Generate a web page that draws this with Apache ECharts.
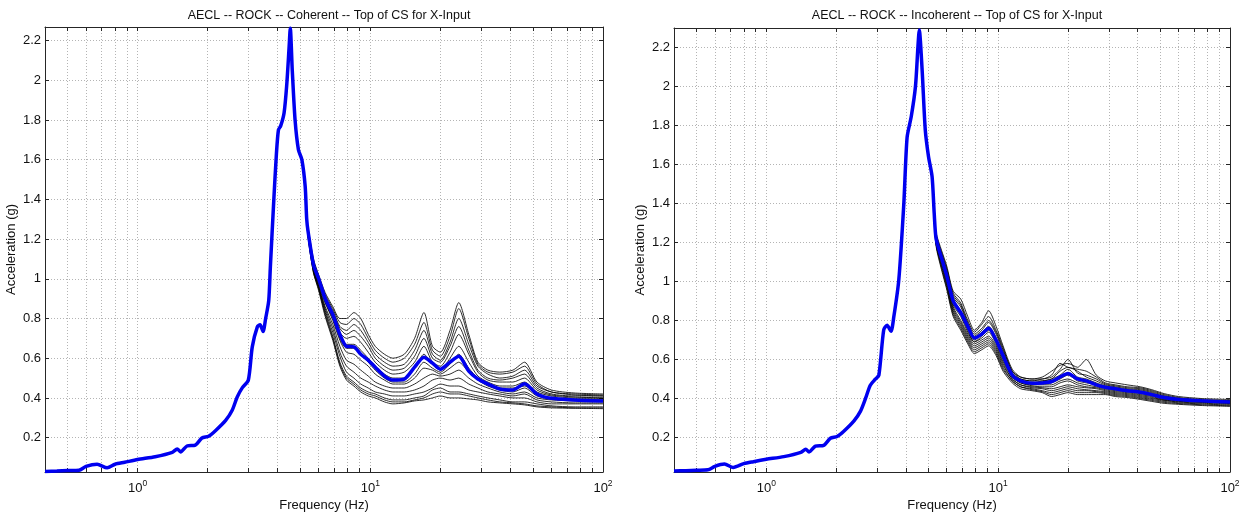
<!DOCTYPE html>
<html>
<head>
<meta charset="utf-8">
<script src="https://cdn.jsdelivr.net/npm/echarts@6/dist/echarts.min.js"></script>
<style>
  html, body { margin: 0; padding: 0; background: #fff; }
  #chart { width: 1247px; height: 514px; }
</style>
</head>
<body>
<div id="chart"></div>
<script>
// ---- text ----
const TITLES = [
  'AECL -- ROCK -- Coherent -- Top of CS for X-Input',
  'AECL -- ROCK -- Incoherent -- Top of CS for X-Input'
];
const X_NAME = 'Frequency (Hz)';
const Y_NAME = 'Acceleration (g)';

// ---- tick positions ----
const X_LABEL_VALUES = [1, 10, 100];
const X_GRID_VALUES = [0.5, 0.6, 0.7, 0.8, 0.9, 1, 2, 3, 4, 5, 6, 7, 8, 9,
  10, 20, 30, 40, 50, 60, 70, 80, 90, 100];
const Y_TICK_VALUES = [0.2, 0.4, 0.6, 0.8, 1, 1.2, 1.4, 1.6, 1.8, 2, 2.2];

// ---- coherent case: band where every run coincides ----
const FREQ_LO_COH = [0.40, 0.45, 0.50, 0.56, 0.60, 0.67, 0.74, 0.80, 0.88, 1.00, 1.19, 1.41, 1.48, 1.53,
  1.63, 1.77, 1.89, 2.02, 2.16, 2.39, 2.55, 2.68, 2.82, 2.99, 3.11, 3.27, 3.36, 3.46, 3.55, 3.66, 3.72,
  3.85, 3.95, 4.03, 4.12, 4.26, 4.37, 4.48, 4.53, 4.62, 4.75, 4.91, 5.08, 5.25, 5.33];
const ACC_LO_COH = [0.030, 0.032, 0.034, 0.036, 0.055, 0.066, 0.048, 0.066, 0.076, 0.090, 0.104, 0.126, 0.143, 0.128,
  0.158, 0.162, 0.198, 0.207, 0.235, 0.287, 0.338, 0.405, 0.452, 0.489, 0.657, 0.758, 0.768, 0.735, 0.800, 0.890, 1.060,
  1.400, 1.630, 1.750, 1.770, 1.835, 1.970, 2.170, 2.262, 2.050, 1.800, 1.650, 1.600, 1.465, 1.300];

// ---- incoherent case: band where every run coincides ----
const FREQ_LO_INC = [0.40, 0.45, 0.50, 0.56, 0.60, 0.66, 0.72, 0.80, 0.88, 1.00, 1.19, 1.41, 1.48, 1.53,
  1.63, 1.77, 1.89, 2.02, 2.16, 2.39, 2.55, 2.68, 2.81, 2.96, 3.06, 3.21, 3.32, 3.45, 3.55, 3.73, 3.92,
  4.05, 4.22, 4.40, 4.51, 4.57, 4.70, 4.85, 5.01, 5.19, 5.30];
const ACC_LO_INC = [0.028, 0.030, 0.032, 0.034, 0.052, 0.064, 0.046, 0.066, 0.076, 0.088, 0.102, 0.124, 0.140, 0.126,
  0.156, 0.160, 0.196, 0.205, 0.232, 0.285, 0.335, 0.400, 0.468, 0.500, 0.520, 0.751, 0.776, 0.745, 0.820, 1.010, 1.400,
  1.740, 1.846, 2.000, 2.205, 2.290, 2.086, 1.778, 1.640, 1.538, 1.350];

// ---- upper band, where the runs spread apart ----
const FREQ_HI = [5.4, 5.7, 6.0, 6.4, 6.9, 7.4, 7.9, 8.5, 9.1, 9.8, 10.5, 11.5, 12.5, 14, 15.5,
  17, 18.5, 20, 22, 24, 26.5, 29, 32, 36, 41, 46, 52, 60, 75, 100];

const MEAN_HI_COH = [1.24, 1.07, 1.00, 0.90, 0.82, 0.72, 0.66, 0.657, 0.62, 0.59, 0.555, 0.51, 0.49, 0.495, 0.555,
  0.605, 0.575, 0.545, 0.58, 0.61, 0.535, 0.495, 0.47, 0.445, 0.44, 0.472, 0.42, 0.398, 0.39, 0.384];

const RUNS_HI_COH = [
  [1.26, 1.10, 1.02, 0.93, 0.86, 0.80, 0.80, 0.83, 0.80, 0.72, 0.66, 0.62, 0.60, 0.62, 0.70, 0.83, 0.66, 0.63, 0.74, 0.88, 0.72, 0.58, 0.54, 0.53, 0.54, 0.58, 0.48, 0.44, 0.425, 0.42],
  [1.25, 1.09, 1.01, 0.92, 0.85, 0.78, 0.77, 0.80, 0.77, 0.70, 0.64, 0.60, 0.58, 0.60, 0.67, 0.78, 0.64, 0.61, 0.71, 0.85, 0.70, 0.57, 0.53, 0.52, 0.53, 0.56, 0.47, 0.43, 0.42, 0.415],
  [1.25, 1.08, 1.00, 0.91, 0.84, 0.76, 0.74, 0.77, 0.74, 0.68, 0.62, 0.58, 0.56, 0.57, 0.64, 0.74, 0.62, 0.59, 0.68, 0.80, 0.67, 0.56, 0.52, 0.50, 0.51, 0.54, 0.46, 0.43, 0.415, 0.41],
  [1.24, 1.08, 1.00, 0.90, 0.83, 0.75, 0.72, 0.74, 0.71, 0.66, 0.60, 0.56, 0.54, 0.55, 0.61, 0.70, 0.60, 0.58, 0.66, 0.76, 0.64, 0.54, 0.50, 0.49, 0.50, 0.52, 0.45, 0.42, 0.41, 0.41],
  [1.24, 1.07, 0.99, 0.90, 0.82, 0.73, 0.70, 0.71, 0.68, 0.63, 0.58, 0.54, 0.52, 0.53, 0.58, 0.66, 0.58, 0.56, 0.63, 0.72, 0.62, 0.53, 0.49, 0.48, 0.48, 0.50, 0.44, 0.415, 0.405, 0.40],
  [1.24, 1.07, 0.99, 0.89, 0.81, 0.72, 0.67, 0.67, 0.64, 0.60, 0.56, 0.52, 0.50, 0.50, 0.55, 0.62, 0.57, 0.54, 0.60, 0.66, 0.58, 0.51, 0.48, 0.46, 0.46, 0.48, 0.43, 0.41, 0.40, 0.40],
  [1.23, 1.06, 0.98, 0.88, 0.80, 0.70, 0.65, 0.65, 0.62, 0.58, 0.54, 0.50, 0.48, 0.48, 0.52, 0.58, 0.55, 0.53, 0.57, 0.62, 0.55, 0.50, 0.47, 0.45, 0.45, 0.46, 0.42, 0.40, 0.395, 0.395],
  [1.23, 1.06, 0.98, 0.88, 0.79, 0.69, 0.63, 0.62, 0.59, 0.56, 0.52, 0.49, 0.47, 0.47, 0.50, 0.55, 0.54, 0.52, 0.55, 0.58, 0.53, 0.49, 0.46, 0.44, 0.43, 0.45, 0.41, 0.395, 0.39, 0.39],
  [1.23, 1.05, 0.97, 0.86, 0.77, 0.66, 0.59, 0.57, 0.54, 0.51, 0.48, 0.46, 0.45, 0.45, 0.47, 0.50, 0.52, 0.51, 0.52, 0.54, 0.50, 0.47, 0.45, 0.43, 0.42, 0.43, 0.40, 0.39, 0.385, 0.385],
  [1.22, 1.05, 0.96, 0.85, 0.75, 0.63, 0.56, 0.53, 0.50, 0.48, 0.46, 0.44, 0.43, 0.43, 0.44, 0.46, 0.49, 0.50, 0.49, 0.50, 0.47, 0.45, 0.43, 0.42, 0.41, 0.42, 0.39, 0.38, 0.375, 0.375],
  [1.22, 1.04, 0.96, 0.84, 0.73, 0.61, 0.53, 0.50, 0.47, 0.45, 0.43, 0.42, 0.41, 0.41, 0.42, 0.43, 0.45, 0.47, 0.46, 0.46, 0.44, 0.43, 0.42, 0.41, 0.40, 0.40, 0.38, 0.37, 0.37, 0.37],
  [1.22, 1.04, 0.95, 0.83, 0.71, 0.58, 0.51, 0.48, 0.45, 0.43, 0.42, 0.40, 0.39, 0.39, 0.40, 0.41, 0.44, 0.45, 0.43, 0.43, 0.42, 0.41, 0.40, 0.39, 0.38, 0.38, 0.37, 0.36, 0.355, 0.355],
  [1.21, 1.03, 0.95, 0.82, 0.70, 0.57, 0.50, 0.47, 0.44, 0.42, 0.41, 0.39, 0.38, 0.38, 0.39, 0.40, 0.42, 0.43, 0.42, 0.42, 0.41, 0.40, 0.39, 0.38, 0.375, 0.37, 0.36, 0.355, 0.35, 0.35],
  [1.21, 1.03, 0.94, 0.81, 0.69, 0.56, 0.49, 0.46, 0.43, 0.41, 0.40, 0.38, 0.37, 0.375, 0.385, 0.39, 0.40, 0.41, 0.40, 0.40, 0.395, 0.39, 0.38, 0.375, 0.37, 0.365, 0.355, 0.35, 0.348, 0.346]
];

const MEAN_HI_INC = [1.22, 1.12, 1.03, 0.90, 0.84, 0.77, 0.71, 0.73, 0.76, 0.70, 0.62, 0.52, 0.49, 0.478, 0.48,
  0.487, 0.51, 0.528, 0.50, 0.49, 0.47, 0.458, 0.45, 0.44, 0.432, 0.42, 0.405, 0.395, 0.388, 0.382];

const RUNS_HI_INC = [
  [1.25, 1.16, 1.08, 0.95, 0.91, 0.82, 0.75, 0.79, 0.85, 0.77, 0.67, 0.55, 0.51, 0.50, 0.51, 0.54, 0.57, 0.58, 0.56, 0.60, 0.52, 0.49, 0.48, 0.47, 0.46, 0.445, 0.425, 0.41, 0.40, 0.395],
  [1.24, 1.15, 1.07, 0.94, 0.89, 0.80, 0.74, 0.78, 0.82, 0.75, 0.66, 0.54, 0.51, 0.50, 0.50, 0.52, 0.58, 0.56, 0.55, 0.54, 0.51, 0.48, 0.47, 0.46, 0.455, 0.44, 0.42, 0.405, 0.395, 0.39],
  [1.24, 1.14, 1.06, 0.93, 0.88, 0.79, 0.73, 0.76, 0.80, 0.74, 0.65, 0.54, 0.50, 0.49, 0.50, 0.51, 0.55, 0.60, 0.53, 0.52, 0.50, 0.475, 0.465, 0.455, 0.45, 0.435, 0.415, 0.40, 0.39, 0.388],
  [1.23, 1.14, 1.05, 0.92, 0.87, 0.78, 0.72, 0.75, 0.79, 0.73, 0.64, 0.53, 0.50, 0.49, 0.49, 0.50, 0.54, 0.56, 0.54, 0.51, 0.49, 0.47, 0.46, 0.45, 0.445, 0.43, 0.41, 0.40, 0.39, 0.386],
  [1.23, 1.13, 1.04, 0.91, 0.85, 0.77, 0.71, 0.74, 0.77, 0.71, 0.63, 0.53, 0.49, 0.48, 0.49, 0.50, 0.52, 0.55, 0.51, 0.50, 0.48, 0.465, 0.455, 0.445, 0.44, 0.425, 0.41, 0.398, 0.39, 0.384],
  [1.22, 1.12, 1.03, 0.90, 0.84, 0.76, 0.70, 0.73, 0.76, 0.70, 0.62, 0.52, 0.49, 0.48, 0.48, 0.49, 0.51, 0.53, 0.50, 0.49, 0.475, 0.46, 0.45, 0.44, 0.435, 0.42, 0.405, 0.395, 0.388, 0.382],
  [1.22, 1.12, 1.03, 0.89, 0.83, 0.75, 0.69, 0.72, 0.75, 0.69, 0.61, 0.52, 0.49, 0.475, 0.475, 0.48, 0.50, 0.52, 0.49, 0.48, 0.47, 0.455, 0.445, 0.44, 0.43, 0.42, 0.40, 0.392, 0.386, 0.38],
  [1.21, 1.11, 1.02, 0.88, 0.82, 0.74, 0.69, 0.71, 0.74, 0.68, 0.60, 0.51, 0.48, 0.47, 0.47, 0.47, 0.49, 0.50, 0.48, 0.47, 0.46, 0.45, 0.44, 0.435, 0.425, 0.415, 0.40, 0.39, 0.384, 0.378],
  [1.21, 1.10, 1.01, 0.87, 0.80, 0.73, 0.68, 0.70, 0.72, 0.67, 0.59, 0.51, 0.48, 0.465, 0.46, 0.46, 0.48, 0.49, 0.47, 0.46, 0.455, 0.445, 0.435, 0.43, 0.42, 0.41, 0.395, 0.388, 0.382, 0.376],
  [1.20, 1.10, 1.00, 0.86, 0.79, 0.72, 0.67, 0.69, 0.71, 0.66, 0.58, 0.50, 0.47, 0.46, 0.455, 0.45, 0.46, 0.47, 0.46, 0.455, 0.45, 0.44, 0.43, 0.425, 0.415, 0.405, 0.392, 0.385, 0.38, 0.374],
  [1.20, 1.09, 0.99, 0.85, 0.78, 0.71, 0.66, 0.68, 0.70, 0.65, 0.57, 0.50, 0.47, 0.455, 0.45, 0.44, 0.45, 0.46, 0.45, 0.445, 0.44, 0.435, 0.425, 0.42, 0.41, 0.40, 0.39, 0.382, 0.376, 0.37],
  [1.19, 1.08, 0.98, 0.84, 0.77, 0.70, 0.65, 0.67, 0.69, 0.64, 0.56, 0.49, 0.46, 0.45, 0.44, 0.43, 0.44, 0.45, 0.44, 0.44, 0.435, 0.43, 0.42, 0.415, 0.405, 0.395, 0.385, 0.378, 0.372, 0.366],
  [1.19, 1.07, 0.97, 0.83, 0.76, 0.69, 0.64, 0.66, 0.68, 0.63, 0.55, 0.49, 0.46, 0.445, 0.435, 0.42, 0.43, 0.44, 0.43, 0.43, 0.43, 0.425, 0.415, 0.41, 0.40, 0.39, 0.38, 0.374, 0.368, 0.362],
  [1.18, 1.06, 0.96, 0.82, 0.75, 0.68, 0.63, 0.65, 0.67, 0.62, 0.54, 0.48, 0.45, 0.44, 0.43, 0.41, 0.42, 0.43, 0.42, 0.42, 0.42, 0.42, 0.41, 0.405, 0.395, 0.385, 0.375, 0.37, 0.364, 0.36]
];

// ---- layout and style ----
const FONT = '"Liberation Sans", Arial, Helvetica, sans-serif';
const AXIS_COLOR = '#262626';
const GRID_COLOR = '#b4b4b4';
const PANELS = [
  { left: 45, top: 27, width: 558, height: 445, yMin: 0.027, yMax: 2.268,
    fLo: FREQ_LO_COH, aLo: ACC_LO_COH, runs: RUNS_HI_COH, mean: MEAN_HI_COH },
  { left: 674, top: 28, width: 556, height: 444, yMin: 0.023, yMax: 2.30,
    fLo: FREQ_LO_INC, aLo: ACC_LO_INC, runs: RUNS_HI_INC, mean: MEAN_HI_INC }
];

// joins the shared low band with one run's upper band into [frequency, acceleration] pairs
function curve(fLo, aLo, hi) {
  const pts = fLo.map((f, i) => [f, aLo[i]]);
  FREQ_HI.forEach((f, i) => pts.push([f, hi[i]]));
  return pts;
}

const grids = [], xAxes = [], yAxes = [], series = [], titles = [];

PANELS.forEach((p, k) => {
  grids.push({ left: p.left, top: p.top, width: p.width, height: p.height,
    containLabel: false, outerBoundsMode: 'none' });
  titles.push({
    text: TITLES[k], left: p.left + p.width / 2, top: 4, textAlign: 'center',
    textStyle: { fontFamily: FONT, fontSize: 12.5, fontWeight: 'normal', color: '#111' }
  });
  const xBase = {
    type: 'log', logBase: 10, gridIndex: k, min: 0.4, max: 100,
    axisLine: { show: true, onZero: false, lineStyle: { color: AXIS_COLOR, width: 1 } },
    axisTick: { show: true, inside: true, length: 4, customValues: X_GRID_VALUES,
      lineStyle: { color: AXIS_COLOR } },
    minorTick: { show: false }
  };
  xAxes.push(Object.assign({}, xBase, {
    position: 'bottom',
    name: X_NAME, nameLocation: 'middle', nameGap: 27,
    nameTextStyle: { fontFamily: FONT, fontSize: 13, color: '#111' },
    axisLabel: {
      customValues: X_LABEL_VALUES, margin: 7, color: '#111', fontFamily: FONT,
      formatter: v => '{b|10}{s|' + Math.round(Math.log10(v)) + '}',
      rich: {
        b: { fontFamily: FONT, fontSize: 13, lineHeight: 18, color: '#111' },
        s: { fontFamily: FONT, fontSize: 8.5, lineHeight: 9, verticalAlign: 'top', color: '#111' }
      }
    },
    splitLine: { show: true, lineStyle: { color: GRID_COLOR, type: [1, 2], width: 1 } }
  }));
  xAxes.push(Object.assign({}, xBase, {
    position: 'top', axisLabel: { show: false }, splitLine: { show: false }
  }));
  const yBase = {
    type: 'value', gridIndex: k, min: p.yMin, max: p.yMax,
    axisLine: { show: true, onZero: false, lineStyle: { color: AXIS_COLOR, width: 1 } },
    axisTick: { show: true, inside: true, length: 4, customValues: Y_TICK_VALUES,
      lineStyle: { color: AXIS_COLOR } }
  };
  yAxes.push(Object.assign({}, yBase, {
    position: 'left',
    name: Y_NAME, nameLocation: 'middle', nameGap: 27,
    nameTextStyle: { fontFamily: FONT, fontSize: 13, color: '#111' },
    axisLabel: { customValues: Y_TICK_VALUES, margin: 4, fontFamily: FONT, fontSize: 13, color: '#111' },
    splitLine: { show: true, lineStyle: { color: GRID_COLOR, type: [1, 2], width: 1 } }
  }));
  yAxes.push(Object.assign({}, yBase, {
    position: 'right', axisLabel: { show: false }, splitLine: { show: false }
  }));

  // individual runs in black, mean on top in blue
  p.runs.forEach(run => {
    series.push({
      type: 'line', xAxisIndex: 2 * k, yAxisIndex: 2 * k,
      data: curve(p.fLo, p.aLo, run),
      symbol: 'none', smooth: 0.25, silent: true, animation: false, z: 2,
      lineStyle: { color: 'rgba(0,0,0,0.82)', width: 1 }
    });
  });
  series.push({
    type: 'line', xAxisIndex: 2 * k, yAxisIndex: 2 * k,
    data: curve(p.fLo, p.aLo, p.mean),
    symbol: 'none', smooth: 0.25, silent: true, animation: false, z: 3,
    lineStyle: { color: '#0000f0', width: 3.5 }
  });
});

const chart = echarts.init(document.getElementById('chart'), null, { renderer: 'canvas' });
chart.setOption({
  backgroundColor: '#fff',
  animation: false,
  title: titles,
  grid: grids,
  xAxis: xAxes,
  yAxis: yAxes,
  series: series
});
</script>
</body>
</html>
